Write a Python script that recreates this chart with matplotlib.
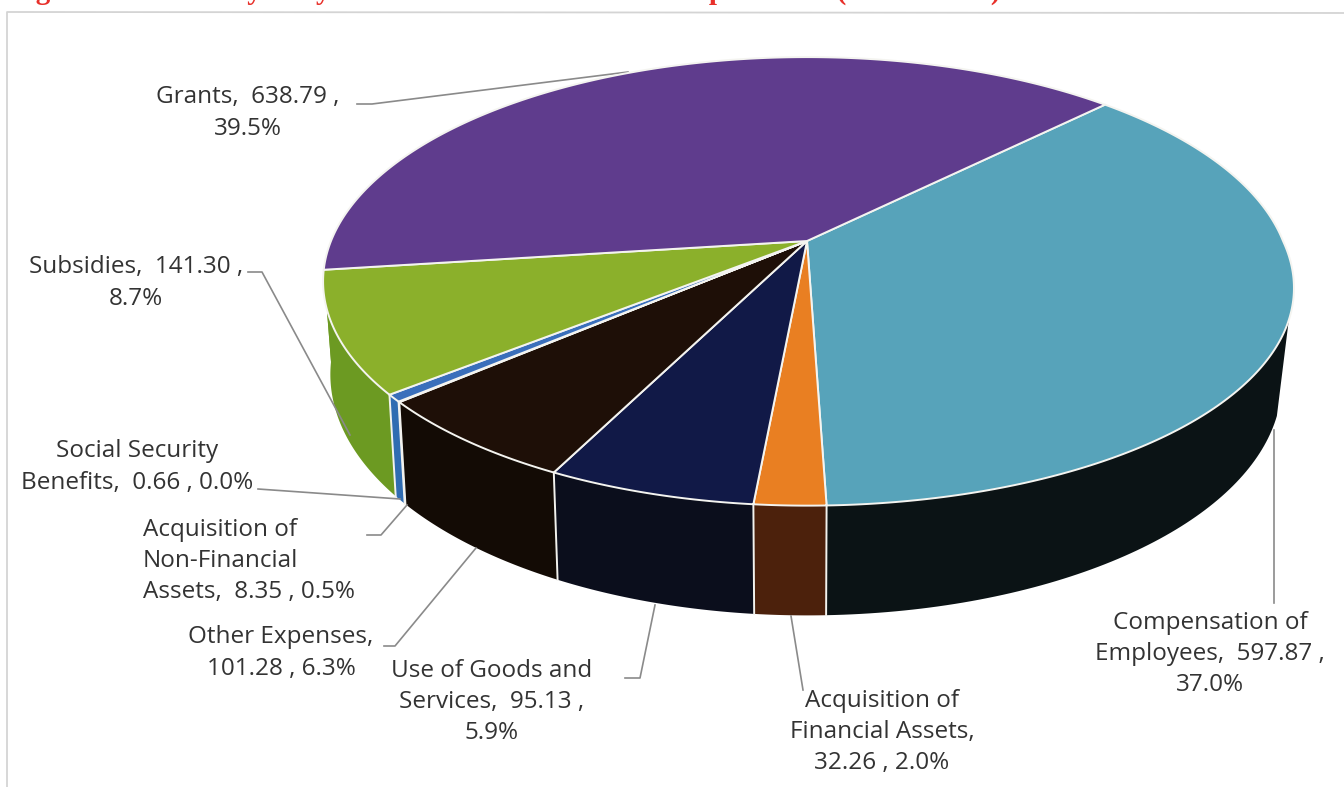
import numpy as np
import matplotlib
matplotlib.use('Agg')
import matplotlib.pyplot as plt

# values in clockwise order, starting at the purple/teal boundary
categories = ['Compensation of Employees', 'Acquisition of Financial Assets', 'Use of Goods and Services',
              'Other Expenses', 'Social Security Benefits', 'Acquisition of Non-Financial Assets',
              'Subsidies', 'Grants']
values = [597.87, 32.26, 95.13, 101.28, 0.66, 8.35, 141.30, 638.79]
top_colors = ['#57a3ba', '#e97f22', '#111947', '#1e0f07', '#a99cc9', '#3a6fbb', '#8bb02b', '#5f3c8d']
side_colors = ['#0b1315', '#4c210c', '#0b0e1c', '#130b05', '#b9aed6', '#2f6cb2', '#6c9a22', '#6c9a22']

# pie geometry in image pixels, perspective squeezes the far side
start_angle = 44.9
cx, cy = 807, 241
a, b = 476, 217
k = 0.18
drop = 90
shrink = 0.985
bulge = 16  # the scanned page pushes the lower right of the disc out a little


def project(theta, lower=False):
    u = np.sin(np.radians(theta))
    v = np.cos(np.radians(theta))
    w = 1 + k * v
    push = bulge * np.clip(u, 0, None) * np.clip(-v, 0, None)
    if lower:
        s = np.where(u > 0, shrink - 0.01, shrink)
        return cx + s * a * u / w + push, cy + (drop - b * v) / w
    return cx + a * u / w + push, cy - b * v / w


fig = plt.figure(figsize=(13.44, 7.87), dpi=100)
ax = fig.add_axes([0, 0, 1, 1])
ax.set_xlim(0, 1344)
ax.set_ylim(787, 0)
ax.axis('off')

# frame of the chart, runs off the page right and bottom
ax.plot([1344, 7, 7], [13, 12, 787], color='#d4d4d4', lw=1.3)

ends = start_angle + np.cumsum(values) / np.sum(values) * 360
starts = np.r_[start_angle, ends[:-1]]

# side wall first, only the front part can be seen
for s, e, col in zip(starts, ends, side_colors):
    lo, hi = max(s, 110), min(e, 278)
    if hi <= lo:
        continue
    th = np.linspace(lo, hi, 80)
    x1, y1 = project(th)
    x2, y2 = project(th[::-1], lower=True)
    ax.fill(np.r_[x1, x2], np.r_[y1, y2], color=col, lw=0, zorder=2)

# white seams on the wall
for e in ends[:-2]:
    if 110 < e < 275:
        x1, y1 = project(e)
        x2, y2 = project(e, lower=True)
        ax.plot([x1, x2], [y1, y2], color='#f2f2ee', lw=1.4, zorder=3)

# top face
for s, e, col in zip(starts, ends, top_colors):
    th = np.linspace(s, e, 200)
    x1, y1 = project(th)
    ax.fill(np.r_[cx, x1], np.r_[cy, y1], facecolor=col, edgecolor='#f4f4f0', lw=1.4, zorder=4,
            joinstyle='round')

# leader lines
leaders = [
    ([357, 372, 628], [104, 104, 72]),
    ([248, 262, 350], [272, 272, 435]),
    ([258, 400], [489, 499]),
    ([367, 381, 407], [535, 535, 505]),
    ([384, 395, 476], [646, 646, 548]),
    ([625, 640, 655], [678, 678, 605]),
    ([803, 791], [690, 616]),
    ([1274, 1274], [430, 603]),
]
for lx, ly in leaders:
    ax.plot(lx, ly, color='#8a8a8a', lw=1.2, zorder=3, solid_joinstyle='round')

# labels
labels = [
    (248, 113, 'center', 'Grants,  638.79 ,\n39.5%'),
    (136, 283, 'center', 'Subsidies,  141.30 ,\n8.7%'),
    (137, 467, 'center', 'Social Security\nBenefits,  0.66 , 0.0%'),
    (143, 561, 'left', 'Acquisition of\nNon-Financial\nAssets,  8.35 , 0.5%'),
    (281, 653, 'center', 'Other Expenses,\n101.28 , 6.3%'),
    (492, 702, 'center', 'Use of Goods and\nServices,  95.13 ,\n5.9%'),
    (882, 732, 'center', 'Acquisition of\nFinancial Assets,\n32.26 , 2.0%'),
    (1210, 654, 'center', 'Compensation of\nEmployees,  597.87 ,\n37.0%'),
]
for x, y, ha, txt in labels:
    ax.text(x, y, txt, ha=ha, va='center', ma=ha, fontsize=17.5, family='Open Sans',
            color='#333333', linespacing=1.41, zorder=6)

# caption above the chart, cut by the page edge in the source
ax.text(10, -1, 'Figure 4.12.1: Analysis by Economic Classification of Expenditure (Rs in Crore)',
        ha='left', va='baseline', fontsize=21, family='Liberation Serif', weight='bold',
        color='#e8302a', clip_on=False)

fig.savefig('out.png', dpi=100)
